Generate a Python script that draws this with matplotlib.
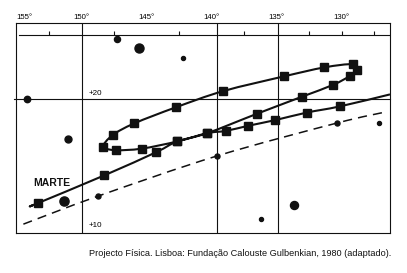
import matplotlib
matplotlib.use("Agg")
import matplotlib.pyplot as plt
from matplotlib.path import Path
from matplotlib.patches import PathPatch

plt.rcParams['font.family'] = ['Liberation Sans', 'DejaVu Sans']

# Mars positions (longitude in degrees, declination), in order along the path
mars_lon = [148.27, 144.31, 142.65, 140.34, 136.49, 133.07, 130.64, 129.33,
            128.84, 129.14, 131.33, 134.43, 139.10, 142.77, 145.96, 147.63,
            148.34, 147.37, 145.40, 142.65, 140.34, 138.90, 137.20, 135.09,
            132.68, 130.14]
mars_lat = [14.29, 16.01, 16.83, 17.45, 18.91, 20.17, 21.07, 21.75,
            22.19, 22.61, 22.37, 21.70, 20.60, 19.38, 18.18, 17.30,
            16.43, 16.18, 16.29, 16.83, 17.45, 17.62, 18.00, 18.43,
            18.99, 19.45]
# first marker sits on the leftmost end of the path
start_lon, start_lat = 153.39, 12.21
line_start = (153.78, 12.06)
line_end = (126.27, 20.35)

# dashed curve (ecliptic)
eclip_lon = [154.50, 148.77, 139.57, 130.38, 126.53]
eclip_lat = [10.64, 12.73, 15.75, 18.20, 19.05]
eclip_dots_lon = [148.77, 139.57, 130.38]
eclip_dots_lat = [12.73, 15.75, 18.20]

# background stars: lon, lat, size
star_lon = [147.31, 145.62, 142.23, 154.19, 151.08, 151.39, 133.64, 136.20, 127.10]
star_lat = [24.47, 23.84, 23.07, 19.98, 17.00, 12.36, 12.11, 11.06, 18.22]
star_size = [4.4, 6.5, 2.9, 4.6, 5.0, 6.6, 5.8, 2.9, 2.9]

deg_ticks = [155, 150, 145, 140, 135, 130]
minor_ticks = [152.5, 147.5, 142.5, 137.5, 132.5, 130, 127.5]
grid_lon = [149.96, 139.6, 134.93]


def smooth(xs, ys):
    # Catmull-Rom through the points, as cubic bezier segments
    pts = list(zip(xs, ys))
    verts = [pts[0]]
    codes = [Path.MOVETO]
    n = len(pts)
    for i in range(n - 1):
        p0 = pts[max(i - 1, 0)]
        p1 = pts[i]
        p2 = pts[i + 1]
        p3 = pts[min(i + 2, n - 1)]
        c1 = (p1[0] + (p2[0] - p0[0]) / 6, p1[1] + (p2[1] - p0[1]) / 6)
        c2 = (p2[0] - (p3[0] - p1[0]) / 6, p2[1] - (p3[1] - p1[1]) / 6)
        verts += [c1, c2, p2]
        codes += [Path.CURVE4] * 3
    return Path(verts, codes)


fig = plt.figure(figsize=(4.07, 2.73), dpi=100)
ax = fig.add_axes([0.0386, 0.1476, 0.9196, 0.767])
ax.set_xlim(155.09, 126.27)
ax.set_ylim(10, 25.67)
ax.set_xticks([])
ax.set_yticks([])
for s in ax.spines.values():
    s.set_linewidth(0.8)
    s.set_color('#111111')

# grid
for g in grid_lon:
    ax.axvline(g, color='#111111', lw=0.8, zorder=1)
ax.plot([155.2, 126.27], [20, 20], color='#111111', lw=0.8, zorder=1, clip_on=False)
ax.plot([154.83, 126.27], [24.79, 24.79], color='#111111', lw=0.8, zorder=1)
ax.vlines(minor_ticks, 24.79, 25.11, color='#111111', lw=0.8, zorder=1)

# degree labels above the frame
for d in deg_ticks:
    if d == 155:
        ax.text(155.05, 25.85, f"{d}°", ha='left', va='bottom', fontsize=5.6)
    else:
        ax.text(d, 25.85, f"{d}°", ha='center', va='bottom', fontsize=5.6)
ax.text(149.5, 20.15, "+20", ha='left', va='bottom', fontsize=5.8)
ax.text(149.5, 10.25, "+10", ha='left', va='bottom', fontsize=5.8)

# ecliptic
ax.add_patch(PathPatch(smooth(eclip_lon, eclip_lat), fill=False, ec='#111111',
                       lw=1.1, linestyle=(0, (6, 4)), zorder=2))
ax.plot(eclip_dots_lon, eclip_dots_lat, 'o', color='#111111', ms=3.6, zorder=3)

# stars
for lo, la, sz in zip(star_lon, star_lat, star_size):
    ax.plot(lo, la, 'o', color='#111111', ms=sz, zorder=3)

# Mars path
line_lon = [line_start[0], start_lon] + mars_lon + [line_end[0]]
line_lat = [line_start[1], start_lat] + mars_lat + [line_end[1]]
ax.add_patch(PathPatch(smooth(line_lon, line_lat), fill=False, ec='#111111',
                       lw=1.5, zorder=4, joinstyle='round'))
ax.plot([start_lon] + mars_lon, [start_lat] + mars_lat, 's', color='#111111',
        ms=5.2, zorder=5)

ax.text(153.73, 13.72, "MARTE", fontsize=7.5, fontweight='bold', ha='left',
        va='center', color='#111111')

fig.text(0.962, 0.073, "Projecto Física. Lisboa: Fundação Calouste Gulbenkian, 1980 (adaptado).",
         ha='right', va='center', fontsize=6.6, color='#111111')

fig.savefig("out.png", dpi=100)
